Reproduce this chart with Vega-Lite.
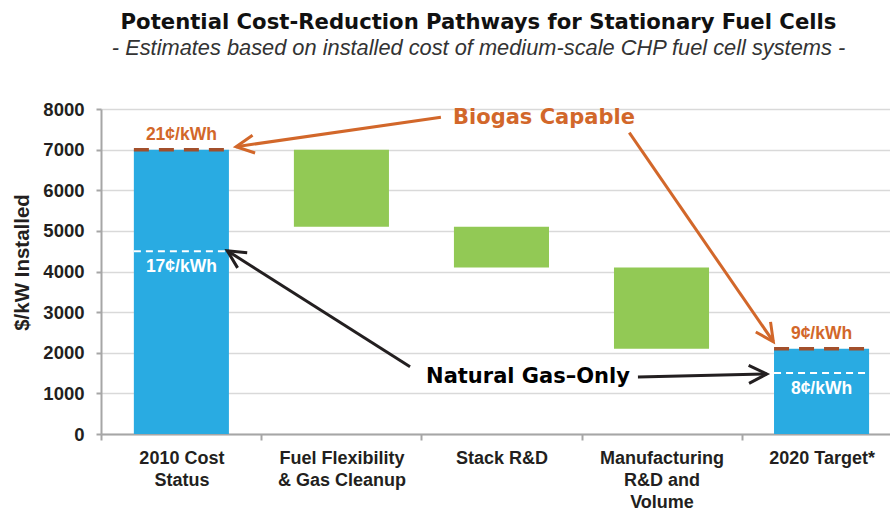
{
  "$schema": "https://vega.github.io/schema/vega-lite/v6.json",
  "width": 789,
  "height": 325,
  "autosize": {"type": "none"},
  "padding": {"left": 101, "top": 109, "right": 0, "bottom": 79},
  "background": "white",
  "title": {
    "text": "Potential Cost-Reduction Pathways for Stationary Fuel Cells",
    "subtitle": "- Estimates based on installed cost of medium-scale CHP fuel cell systems -",
    "font": "DejaVu Sans",
    "fontSize": 21.2,
    "fontWeight": "bold",
    "color": "#111111",
    "subtitleFont": "Liberation Sans",
    "subtitleFontStyle": "italic",
    "subtitleFontSize": 21.8,
    "subtitleColor": "#333333",
    "subtitlePadding": 5,
    "anchor": "middle",
    "frame": "group",
    "dx": -17,
    "offset": 40
  },
  "config": {
    "view": {"stroke": null},
    "axis": {
      "labelFont": "Liberation Sans",
      "labelFontWeight": "bold",
      "labelColor": "#231f20",
      "titleFont": "Liberation Sans",
      "titleFontWeight": "bold",
      "titleColor": "#231f20",
      "domainColor": "#a6a6a6",
      "domainWidth": 2,
      "tickColor": "#a6a6a6",
      "tickWidth": 2
    }
  },
  "datasets": {
    "stages": [
      {"stage": "2010 Cost Status", "low": 0, "high": 7000, "type": "total"},
      {"stage": "Fuel Flexibility & Gas Cleanup", "low": 5100, "high": 7000, "type": "reduction"},
      {"stage": "Stack R&D", "low": 4100, "high": 5100, "type": "reduction"},
      {"stage": "Manufacturing R&D and Volume", "low": 2100, "high": 4100, "type": "reduction"},
      {"stage": "2020 Target*", "low": 0, "high": 2100, "type": "total"}
    ],
    "levels": [
      {"stage": "2010 Cost Status", "cost": 7000, "fuel": "Biogas", "label": "21¢/kWh"},
      {"stage": "2010 Cost Status", "cost": 4500, "fuel": "Natural gas", "label": "17¢/kWh"},
      {"stage": "2020 Target*", "cost": 2100, "fuel": "Biogas", "label": "9¢/kWh"},
      {"stage": "2020 Target*", "cost": 1500, "fuel": "Natural gas", "label": "8¢/kWh"}
    ],
    "arrows": [
      {"id": "bio1", "fuel": "Biogas", "xs": 1.624, "ys": 7796, "xe": 0.344, "ye": 7072},
      {"id": "bio2", "fuel": "Biogas", "xs": 2.801, "ys": 7417, "xe": 3.701, "ye": 2272},
      {"id": "ng1", "fuel": "Natural gas", "xs": 1.431, "ys": 1657, "xe": 0.289, "ye": 4512},
      {"id": "ng2", "fuel": "Natural gas", "xs": 2.855, "ys": 1403, "xe": 3.66, "ye": 1477}
    ],
    "callouts": [
      {"text": "Biogas Capable", "fuel": "Biogas", "x": 2.268, "y": 7778},
      {"text": "Natural Gas–Only", "fuel": "Natural gas", "x": 2.168, "y": 1403}
    ]
  },
  "layer": [
    {
      "layer": [
        {
          "data": {"name": "stages"},
          "mark": {"type": "bar"},
          "encoding": {
            "x": {
              "field": "stage",
              "type": "nominal",
              "sort": null,
              "scale": {"paddingInner": 0.406, "paddingOuter": 0.168, "align": 0.611},
              "axis": {
                "title": null,
                "labelAngle": 0,
                "labelFontSize": 18,
                "labelLineHeight": 22,
                "labelPadding": 9,
                "labelBaseline": "top",
                "labelOverlap": false,
                "labelLimit": 300,
                "tickBand": "center",
                "tickOffset": -80,
                "labelOffset": 80,
                "tickSize": 6,
                "grid": false,
                "labelExpr": "datum.label === '2010 Cost Status' ? ['2010 Cost', 'Status'] : datum.label === 'Fuel Flexibility & Gas Cleanup' ? ['Fuel Flexibility', '& Gas Cleanup'] : datum.label === 'Manufacturing R&D and Volume' ? ['Manufacturing', 'R&D and', 'Volume'] : datum.label"
              }
            },
            "y": {
              "field": "high",
              "type": "quantitative",
              "title": "$/kW Installed",
              "scale": {"domain": [0, 8000], "nice": false},
              "axis": {
                "values": [0, 1000, 2000, 3000, 4000, 5000, 6000, 7000, 8000],
                "format": "d",
                "labelFontSize": 18.5,
                "labelPadding": 12,
                "tickSize": 5,
                "grid": true,
                "gridColor": "#d9d9d9",
                "gridWidth": 1.5,
                "titleFontSize": 20.5,
                "titleAngle": -90,
                "titleX": -79,
                "titleY": 153,
                "titleAlign": "center",
                "titleBaseline": "middle"
              }
            },
            "y2": {"field": "low"},
            "color": {
              "condition": {"test": "datum.type === 'total'", "value": "#29abe2"},
              "value": "#92c955"
            }
          }
        },
        {
          "data": {"name": "levels"},
          "transform": [{"filter": "datum.fuel === 'Biogas'"}],
          "mark": {"type": "rule", "color": "#a24f2b", "strokeWidth": 3.5, "strokeDash": [15, 10], "xOffset": -47.5, "x2Offset": 47.5},
          "encoding": {
            "x": {"field": "stage", "type": "nominal", "sort": null},
            "x2": {"field": "stage"},
            "y": {"field": "cost", "type": "quantitative", "title": "$/kW Installed"}
          }
        },
        {
          "data": {"name": "levels"},
          "transform": [{"filter": "datum.fuel !== 'Biogas'"}],
          "mark": {"type": "rule", "color": "white", "strokeWidth": 2, "strokeDash": [7, 5], "xOffset": -47.5, "x2Offset": 47.5},
          "encoding": {
            "x": {"field": "stage", "type": "nominal", "sort": null},
            "x2": {"field": "stage"},
            "y": {"field": "cost", "type": "quantitative", "title": "$/kW Installed"}
          }
        },
        {
          "data": {"name": "levels"},
          "transform": [{"filter": "datum.fuel === 'Biogas'"}],
          "mark": {"type": "text", "font": "Liberation Sans", "fontWeight": "bold", "fontSize": 17.5, "color": "#d2672a", "baseline": "alphabetic", "align": "center", "dy": -10},
          "encoding": {
            "x": {"field": "stage", "type": "nominal", "sort": null},
            "y": {"field": "cost", "type": "quantitative", "title": "$/kW Installed"},
            "text": {"field": "label"}
          }
        },
        {
          "data": {"name": "levels"},
          "transform": [{"filter": "datum.fuel !== 'Biogas'"}],
          "mark": {"type": "text", "font": "Liberation Sans", "fontWeight": "bold", "fontSize": 17.5, "color": "white", "baseline": "alphabetic", "align": "center", "dy": 21},
          "encoding": {
            "x": {"field": "stage", "type": "nominal", "sort": null},
            "y": {"field": "cost", "type": "quantitative", "title": "$/kW Installed"},
            "text": {"field": "label"}
          }
        }
      ]
    },
    {
      "layer": [
        {
          "data": {"name": "arrows"},
          "mark": {"type": "rule", "strokeWidth": 3, "strokeCap": "butt"},
          "encoding": {
            "x": {"field": "xs", "type": "quantitative", "scale": {"domain": [-0.5, 4.43], "nice": false, "zero": false}, "axis": null},
            "x2": {"field": "xe"},
            "y": {"field": "ys", "type": "quantitative", "title": "$/kW Installed"},
            "y2": {"field": "ye"},
            "color": {
              "condition": {"test": "datum.fuel === 'Biogas'", "value": "#d2672a"},
              "value": "#231f20"
            }
          }
        },
        {
          "data": {"name": "arrows"},
          "transform": [{"filter": "datum.id === 'bio1'"}],
          "mark": {"type": "point", "shape": "M -1.3 -0.65 L 0 0 L -1.3 0.65", "size": 760, "filled": false, "strokeWidth": 3, "angle": 171.8, "color": "#d2672a", "opacity": 1},
          "encoding": {
            "x": {"field": "xe", "type": "quantitative", "axis": null},
            "y": {"field": "ye", "type": "quantitative", "title": "$/kW Installed"}
          }
        },
        {
          "data": {"name": "arrows"},
          "transform": [{"filter": "datum.id === 'bio2'"}],
          "mark": {"type": "point", "shape": "M -1.3 -0.65 L 0 0 L -1.3 0.65", "size": 760, "filled": false, "strokeWidth": 3, "angle": 55.4, "color": "#d2672a", "opacity": 1},
          "encoding": {
            "x": {"field": "xe", "type": "quantitative", "axis": null},
            "y": {"field": "ye", "type": "quantitative", "title": "$/kW Installed"}
          }
        },
        {
          "data": {"name": "arrows"},
          "transform": [{"filter": "datum.id === 'ng1'"}],
          "mark": {"type": "point", "shape": "M -1.3 -0.65 L 0 0 L -1.3 0.65", "size": 760, "filled": false, "strokeWidth": 3, "angle": 212.4, "color": "#231f20", "opacity": 1},
          "encoding": {
            "x": {"field": "xe", "type": "quantitative", "axis": null},
            "y": {"field": "ye", "type": "quantitative", "title": "$/kW Installed"}
          }
        },
        {
          "data": {"name": "arrows"},
          "transform": [{"filter": "datum.id === 'ng2'"}],
          "mark": {"type": "point", "shape": "M -1.3 -0.65 L 0 0 L -1.3 0.65", "size": 760, "filled": false, "strokeWidth": 3, "angle": 358.7, "color": "#231f20", "opacity": 1},
          "encoding": {
            "x": {"field": "xe", "type": "quantitative", "axis": null},
            "y": {"field": "ye", "type": "quantitative", "title": "$/kW Installed"}
          }
        },
        {
          "data": {"name": "callouts"},
          "mark": {"type": "text", "font": "DejaVu Sans", "fontWeight": "bold", "fontSize": 21, "baseline": "middle", "align": "center"},
          "encoding": {
            "x": {"field": "x", "type": "quantitative", "axis": null},
            "y": {"field": "y", "type": "quantitative", "title": "$/kW Installed"},
            "text": {"field": "text"},
            "color": {
              "condition": {"test": "datum.fuel === 'Biogas'", "value": "#d2672a"},
              "value": "#000000"
            }
          }
        }
      ]
    }
  ],
  "resolve": {"scale": {"x": "independent"}}
}
